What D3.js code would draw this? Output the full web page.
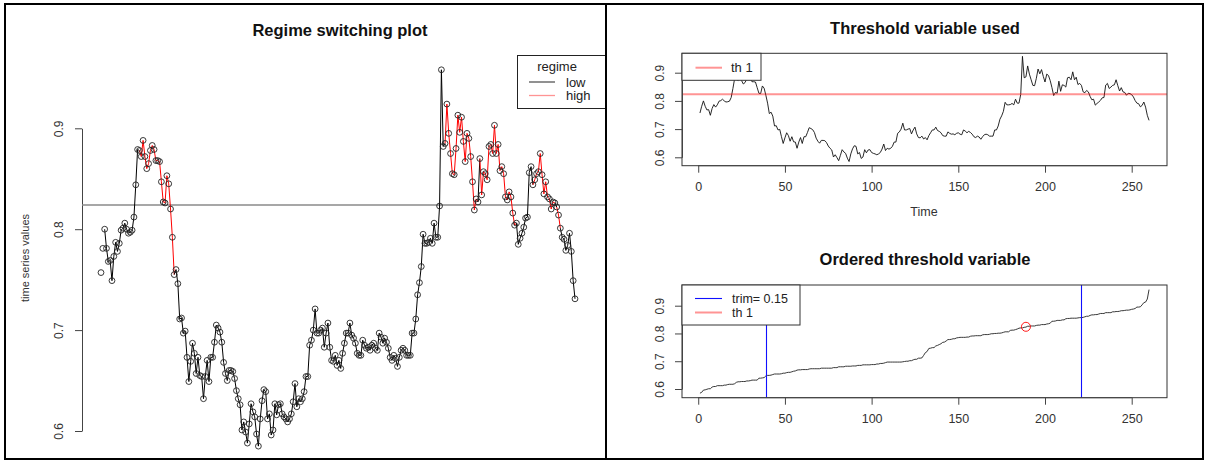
<!DOCTYPE html>
<html>
<head>
<meta charset="utf-8">
<script src="https://cdn.jsdelivr.net/npm/d3@7"></script>
<style>
  body { margin: 0; background: #fff; }
  svg { display: block; }
</style>
</head>
<body>
<svg id="chart" width="1206" height="461"></svg>
<script>
// Observed series (also used as the threshold variable)
const series = [
  0.757,0.781,0.800,0.781,0.768,0.769,0.749,0.773,0.787,0.778,0.786,0.799,0.801,0.806,0.800,0.796,0.797,0.799,0.812,0.844,
  0.879,0.878,0.872,0.888,0.872,0.860,0.865,0.878,0.883,0.879,0.868,0.868,0.867,0.847,0.827,0.826,0.853,0.845,0.820,0.792,0.755,
  0.760,0.746,0.711,0.712,0.697,0.699,0.673,0.649,0.669,0.687,0.677,0.657,0.673,0.655,0.654,0.632,0.654,0.670,0.649,0.673,0.673,0.688,
  0.705,0.702,0.698,0.688,0.668,0.657,0.650,0.660,0.660,0.659,0.652,0.640,0.632,0.626,0.601,0.609,0.599,0.588,0.607,0.627,0.619,
  0.614,0.597,0.585,0.612,0.630,0.641,0.639,0.612,0.617,0.596,0.601,0.627,0.616,0.626,0.627,0.617,0.614,0.612,0.609,0.612,0.617,
  0.629,0.647,0.624,0.632,0.629,0.632,0.639,0.654,0.654,0.685,0.690,0.700,0.721,0.697,0.697,0.700,0.702,0.683,0.697,0.707,0.683,
  0.670,0.669,0.675,0.665,0.670,0.662,0.677,0.687,0.697,0.697,0.707,0.695,0.692,0.687,0.677,0.675,0.675,0.690,0.685,0.682,0.683,0.680,
  0.685,0.687,0.682,0.680,0.697,0.693,0.687,0.692,0.688,0.682,0.673,0.670,0.675,0.672,0.664,0.673,0.680,0.682,0.680,0.675,0.675,
  0.675,0.697,0.697,0.711,0.735,0.747,0.763,0.795,0.786,0.786,0.787,0.791,0.786,0.806,0.792,0.792,0.823,0.958,0.882,0.885,0.924,0.895,
  0.875,0.855,0.854,0.880,0.913,0.896,0.911,0.887,0.867,0.895,0.890,0.872,0.847,0.819,0.830,0.827,0.870,0.834,0.857,0.855,
  0.849,0.882,0.884,0.875,0.903,0.875,0.884,0.858,0.862,0.855,0.832,0.829,0.837,0.832,0.816,0.804,0.806,0.785,0.791,0.796,0.802,
  0.811,0.812,0.856,0.862,0.844,0.849,0.855,0.857,0.875,0.854,0.835,0.847,0.832,0.830,0.820,0.827,0.826,0.822,0.814,0.801,0.792,
  0.790,0.779,0.784,0.796,0.778,0.749,0.731
];
const threshold = 0.824;      // estimated threshold "th 1"
const thDelay = 3;            // lag of the threshold variable
const trimFrac = 0.15;        // trimming used in the threshold search
const valueTicks = [0.6, 0.7, 0.8, 0.9];
const timeTicks = [0, 50, 100, 150, 200, 250];
const regimeLabels = ["low", "high"];
const trimLabel = "trim= " + trimFrac;
const thLabel = "th 1";

const FONT = '"Liberation Sans", Arial, Helvetica, sans-serif';
const PINK = "rgba(255,0,0,0.42)";
const BLUE = "#1010ff";
const n = series.length;
const svg = d3.select("#chart");
const crisp = v => Math.round(v) + 0.5;

// ---------- outer frames ----------
svg.append("rect").attr("x", 5).attr("y", 4).attr("width", 1198).attr("height", 455)
  .attr("fill", "none").attr("stroke", "#000").attr("stroke-width", 2);
svg.append("line").attr("x1", 606).attr("x2", 606).attr("y1", 4).attr("y2", 459)
  .attr("stroke", "#000").attr("stroke-width", 2);

function styleAxis(g, size) {
  g.attr("font-family", FONT).attr("font-size", size);
  g.selectAll("path.domain").attr("stroke", "#444");
  g.selectAll(".tick line").attr("stroke", "#444");
  g.selectAll(".tick text").attr("fill", "#333");
}
function rotateYLabels(g, offset) {
  g.selectAll(".tick text")
    .attr("x", 0).attr("dy", null)
    .attr("text-anchor", "middle")
    .attr("transform", `translate(${-offset},0) rotate(-90)`);
}

// ---------- left panel: regime switching plot ----------
svg.append("clipPath").attr("id", "leftClip")
  .append("rect").attr("x", 6).attr("y", 5).attr("width", 599).attr("height", 453);
const gL = svg.append("g").attr("clip-path", "url(#leftClip)");

const xL = d3.scaleLinear().domain([1, n]).range([101, 575]);
const yL = d3.scaleLinear().domain([0.6, 0.9]).range([431, 128.3]);

gL.append("text").attr("x", 340).attr("y", 35.5).attr("text-anchor", "middle")
  .attr("font-family", FONT).attr("font-size", 16.5).attr("font-weight", "bold")
  .attr("fill", "#111").text("Regime switching plot");

gL.append("text").attr("transform", "translate(29,258) rotate(-90)")
  .attr("text-anchor", "middle").attr("font-family", FONT).attr("font-size", 11)
  .attr("fill", "#333").text("time series values");

const axL = gL.append("g").attr("transform", "translate(82,0)")
  .call(d3.axisLeft(yL).tickValues(valueTicks).tickSize(7).tickSizeOuter(0).tickFormat(d3.format(".1f")));
styleAxis(axL, 12);
rotateYLabels(axL, 19);

// threshold level
gL.append("line").attr("x1", 82).attr("x2", 606)
  .attr("y1", yL(threshold)).attr("y2", yL(threshold))
  .attr("stroke", "#8a8a8a").attr("stroke-width", 1.6);

// segments coloured by regime (threshold variable lagged by thDelay)
const segs = d3.range(thDelay, n).map(i => ({
  a: i - 1, b: i, high: series[i - thDelay] > threshold
}));
gL.append("g").selectAll("line").data(segs).join("line")
  .attr("x1", d => xL(d.a + 1)).attr("y1", d => yL(series[d.a]))
  .attr("x2", d => xL(d.b + 1)).attr("y2", d => yL(series[d.b]))
  .attr("stroke", d => d.high ? "#ff0000" : "#000")
  .attr("stroke-width", 1);

gL.append("g").selectAll("circle").data(series).join("circle")
  .attr("cx", (d, i) => xL(i + 1)).attr("cy", d => yL(d))
  .attr("r", 2.9).attr("fill", "none").attr("stroke", "#222").attr("stroke-width", 0.9);

// legend
const legL = gL.append("g").attr("font-family", FONT).attr("font-size", 13);
legL.append("rect").attr("x", 517.5).attr("y", 55.5).attr("width", 120).attr("height", 53)
  .attr("fill", "#fff").attr("stroke", "#222").attr("stroke-width", 1);
legL.append("text").attr("x", 557).attr("y", 70.5).attr("text-anchor", "middle")
  .attr("fill", "#222").text("regime");
regimeLabels.forEach((lab, k) => {
  const y = 82 + k * 13.5;
  legL.append("line").attr("x1", 529).attr("x2", 555).attr("y1", y).attr("y2", y)
    .attr("stroke", k ? PINK : "#555").attr("stroke-width", 1.3);
  legL.append("text").attr("x", 566).attr("y", y + 4.5).attr("fill", "#222").text(lab);
});

// ---------- right panels ----------
const pad = (n - 1) * 0.04;
const xR = d3.scaleLinear().domain([1 - pad, n + pad]).range([682, 1167]);

function timeAxis(yPos) {
  const g = svg.append("g").attr("transform", `translate(0,${yPos})`)
    .call(d3.axisBottom(xR).tickValues(timeTicks).tickSize(7).tickSizeOuter(0));
  g.select("path.domain").attr("d", `M${xR(timeTicks[0])},0H${xR(timeTicks[timeTicks.length - 1])}`);
  styleAxis(g, 12.5);
  g.selectAll(".tick text").attr("y", 25.5).attr("dy", null);
  return g;
}
function valueAxis(y) {
  const g = svg.append("g").attr("transform", "translate(682,0)")
    .call(d3.axisLeft(y).tickValues(valueTicks).tickSize(7).tickSizeOuter(0).tickFormat(d3.format(".1f")));
  styleAxis(g, 12);
  rotateYLabels(g, 18);
  return g;
}
function title(text, y) {
  svg.append("text").attr("x", 925).attr("y", y).attr("text-anchor", "middle")
    .attr("font-family", FONT).attr("font-size", 16.5).attr("font-weight", "bold")
    .attr("fill", "#111").text(text);
}

// top: threshold variable over time
const topBox = { top: 53.3, bottom: 165.7 };
const yTop = d3.scaleLinear().domain([0.6, 0.9]).range([157.3, 72.7]);
title("Threshold variable used", 34);
svg.append("path").datum(series)
  .attr("d", d3.line().x((d, i) => xR(i + 1)).y(d => yTop(d)))
  .attr("fill", "none").attr("stroke", "#111").attr("stroke-width", 0.9);
svg.append("line").attr("x1", 682).attr("x2", 1167)
  .attr("y1", yTop(threshold)).attr("y2", yTop(threshold))
  .attr("stroke", PINK).attr("stroke-width", 2);
svg.append("rect").attr("x", 682).attr("y", topBox.top).attr("width", 485)
  .attr("height", topBox.bottom - topBox.top).attr("fill", "none").attr("stroke", "#333");
timeAxis(topBox.bottom);
valueAxis(yTop);
svg.append("text").attr("x", 924).attr("y", 216).attr("text-anchor", "middle")
  .attr("font-family", FONT).attr("font-size", 12.5).attr("fill", "#333").text("Time");
const legT = svg.append("g").attr("font-family", FONT).attr("font-size", 13);
legT.append("rect").attr("x", 682).attr("y", topBox.top).attr("width", 79).attr("height", 27)
  .attr("fill", "#fff").attr("stroke", "#333");
legT.append("line").attr("x1", 695.5).attr("x2", 722).attr("y1", 67.7).attr("y2", 67.7)
  .attr("stroke", PINK).attr("stroke-width", 2);
legT.append("text").attr("x", 731).attr("y", 72.2).attr("fill", "#222").text(thLabel);

// bottom: ordered threshold variable
const botBox = { top: 285, bottom: 397.7 };
const yBot = d3.scaleLinear().domain([0.6, 0.9]).range([389, 305.7]);
const sorted = series.slice().sort(d3.ascending);
const trimLo = Math.floor(trimFrac * n);
const trimHi = n - trimLo;
const thRank = sorted.filter(v => v <= threshold).length;
title("Ordered threshold variable", 265);
svg.append("path").datum(sorted)
  .attr("d", d3.line().x((d, i) => xR(i + 1)).y(d => yBot(d)))
  .attr("fill", "none").attr("stroke", "#222").attr("stroke-width", 0.9);
[trimLo, trimHi].forEach(t => {
  svg.append("line").attr("x1", crisp(xR(t))).attr("x2", crisp(xR(t)))
    .attr("y1", botBox.top).attr("y2", botBox.bottom)
    .attr("stroke", BLUE).attr("stroke-width", 1.1);
});
svg.append("circle").attr("cx", xR(thRank)).attr("cy", yBot(threshold)).attr("r", 4.5)
  .attr("fill", "none").attr("stroke", "#ff0000").attr("stroke-width", 0.9);
svg.append("rect").attr("x", 682).attr("y", botBox.top).attr("width", 485)
  .attr("height", botBox.bottom - botBox.top).attr("fill", "none").attr("stroke", "#333");
timeAxis(botBox.bottom);
valueAxis(yBot);
const legB = svg.append("g").attr("font-family", FONT).attr("font-size", 12.5);
legB.append("rect").attr("x", 682).attr("y", botBox.top).attr("width", 118).attr("height", 40)
  .attr("fill", "#fff").attr("stroke", "#333");
legB.append("line").attr("x1", 695).attr("x2", 722).attr("y1", 298.5).attr("y2", 298.5)
  .attr("stroke", BLUE).attr("stroke-width", 1.1);
legB.append("text").attr("x", 732).attr("y", 303).attr("fill", "#222").text(trimLabel);
legB.append("line").attr("x1", 695).attr("x2", 722).attr("y1", 312.5).attr("y2", 312.5)
  .attr("stroke", PINK).attr("stroke-width", 2);
legB.append("text").attr("x", 732).attr("y", 317).attr("fill", "#222").text(thLabel);
</script>
</body>
</html>
